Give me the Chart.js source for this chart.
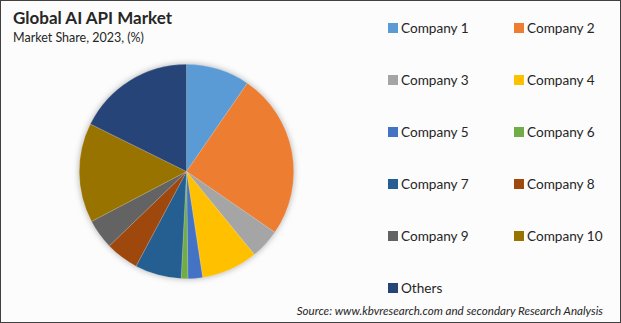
<!DOCTYPE html>
<html>
<head>
<meta charset="utf-8">
<script src="https://cdn.jsdelivr.net/npm/chart.js@4.4.1/dist/chart.umd.min.js"></script>
<style>
  html, body { margin: 0; padding: 0; }
  body { width: 621px; height: 323px; position: relative; overflow: hidden; background: #fff; font-family: Lato, "Noto Sans", sans-serif; }
  #frame { position: absolute; left: 0; top: 0; width: 619px; height: 321px; border: 1px solid #404040; background: #fcfcfc; }
  #title { position: absolute; left: 13px; top: 7px; font-size: 17px; font-weight: bold; color: #262626; }
  #subtitle { position: absolute; left: 13px; top: 30px; font-size: 12.5px; color: #262626; }
  #pieWrap { position: absolute; left: 72px; top: 57px; width: 229px; height: 229px; }
  #pie { filter: drop-shadow(0 0 3px rgba(0,0,0,0.3)); }
  .lg { position: absolute; font-size: 13.6px; color: #262626; white-space: nowrap; }
  .lg span { display: inline-block; width: 10px; height: 10px; margin-right: 3px; vertical-align: 0px; }
  #source { position: absolute; right: 18px; top: 304px; font-size: 11.6px; font-style: italic; color: #262626; }
</style>
</head>
<body>
<div id="frame"></div>
<div id="title">Global AI API Market</div>
<div id="subtitle">Market Share, 2023, (%)</div>
<div id="pieWrap"><canvas id="pie" width="229" height="229"></canvas></div>
<div id="legend"></div>
<div id="source">Source: www.kbvresearch.com and secondary Research Analysis</div>
<script>
// categorias y valores
const labels = ['Company 1', 'Company 2', 'Company 3', 'Company 4', 'Company 5', 'Company 6',
  'Company 7', 'Company 8', 'Company 9', 'Company 10', 'Others'];
const shares = [9.6, 25.0, 4.5, 8.5, 2.2, 1.0, 7.0, 5.0, 4.5, 15.0, 17.7];
const colors = ['#5B9BD5', '#ED7D31', '#A5A5A5', '#FFC000', '#4472C4', '#70AD47',
  '#255E91', '#9E480E', '#636363', '#997300', '#264478'];

// leyenda en dos columnas
const legend = document.getElementById('legend');
labels.forEach((name, i) => {
  const item = document.createElement('div');
  item.className = 'lg';
  item.style.left = (i % 2 === 0 ? 388 : 514) + 'px';
  item.style.top = (20 + Math.floor(i / 2) * 52) + 'px';
  item.innerHTML = `<span style="background:${colors[i]}"></span>${name}`;
  legend.appendChild(item);
});

new Chart(document.getElementById('pie'), {
  type: 'pie',
  data: {
    labels: labels,
    datasets: [{
      data: shares,
      backgroundColor: colors,
      borderColor: 'rgba(255,255,255,0.35)',
      borderWidth: 0.5
    }]
  },
  options: {
    responsive: false,
    animation: false,
    layout: { padding: 7 },
    plugins: {
      legend: { display: false },
      tooltip: { enabled: false }
    }
  }
});
</script>
</body>
</html>
